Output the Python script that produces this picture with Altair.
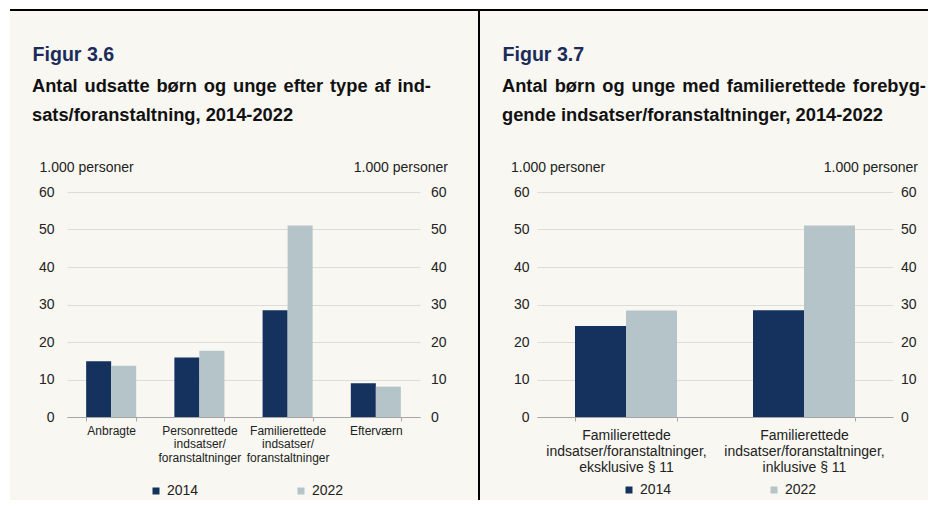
import altair as alt
import pandas as pd

# ---------------- data ----------------
years = ["2014", "2022"]
y_ticks = [0, 10, 20, 30, 40, 50, 60]
unit_label = "1.000 personer"

cats_36 = ["Anbragte",
           "Personrettede\nindsatser/\nforanstaltninger",
           "Familierettede\nindsatser/\nforanstaltninger",
           "Efterværn"]
vals_36_2014 = [14.9, 15.9, 28.5, 9.0]
vals_36_2022 = [13.7, 17.7, 51.1, 8.1]

cats_37 = ["Familierettede\nindsatser/foranstaltninger,\neksklusive § 11",
           "Familierettede\nindsatser/foranstaltninger,\ninklusive § 11"]
vals_37_2014 = [24.3, 28.5]
vals_37_2022 = [28.4, 51.1]

fig_36 = "Figur 3.6"
sub_36 = ["Antal udsatte børn og unge efter type af ind-",
          "sats/foranstaltning, 2014-2022"]
fig_37 = "Figur 3.7"
sub_37 = ["Antal børn og unge med familierettede forebyg-",
          "gende indsatser/foranstaltninger, 2014-2022"]

# ---------------- style ----------------
FONT = "Liberation Sans"
NAVY = "#15325f"
LIGHT = "#b5c4c9"
BG = "#f8f7f1"
GRID = "#dcdcdc"
AXIS = "#a6a6a6"
TXT = "#222222"
H = 225
BOTTOM = 308
SUB_SIZE = 18.3

# Arial/Liberation Sans Bold advance widths (1/1000 em) for justifying line 1
BOLD_W = {"A": 722, "a": 556, "b": 611, "d": 611, "e": 556, "f": 333,
          "g": 611, "i": 278, "l": 278, "m": 889, "n": 611, "o": 611,
          "p": 611, "r": 389, "s": 556, "t": 333, "u": 611, "y": 556,
          "ø": 611, "-": 333}


def text_width(s, size):
    return sum(BOLD_W.get(c, 556) for c in s) / 1000.0 * size


def rect(x, x2, y, y2, color):
    return alt.Chart(pd.DataFrame({"k": [0]})).mark_rect(color=color).encode(
        x=alt.value(x), x2=alt.value(x2), y=alt.value(y), y2=alt.value(y2)
    )


def justified_line(line, x0, x1, y, size):
    words = line.split(" ")
    widths = [text_width(w, size) for w in words]
    gap = (x1 - x0 - sum(widths)) / (len(words) - 1)
    out = []
    pos = x0
    one = pd.DataFrame({"k": [0]})
    for w, wd in zip(words, widths):
        out.append(alt.Chart(one).mark_text(
            align="left", baseline="alphabetic", font=FONT, fontSize=size,
            fontWeight="bold", color="#111111"
        ).encode(x=alt.value(round(pos, 2)), y=alt.value(y), text=alt.value(w)))
        pos += wd + gap
    return out


def panel(cats, v14, v22, fig, sub, W, pin, pout, xl_size, xl_lh, xl_pad,
          ypadL, ypadR, tXL, tXR, legX, legY, colpad, sub_end, deco):
    df = pd.DataFrame({
        "cat": cats * 2,
        "year": [years[0]] * len(cats) + [years[1]] * len(cats),
        "value": v14 + v22,
    })
    one = pd.DataFrame({"k": [0]})

    fig_txt = alt.Chart(one).mark_text(
        align="left", baseline="alphabetic", font=FONT, fontSize=19.6,
        fontWeight="bold", color="#1b2b5b"
    ).encode(x=alt.value(-34.5), y=alt.value(-131), text=alt.value(fig))

    line1 = justified_line(sub[0], -35, sub_end, -100.5, SUB_SIZE)
    line2 = alt.Chart(one).mark_text(
        align="left", baseline="alphabetic", font=FONT, fontSize=SUB_SIZE,
        fontWeight="bold", color="#111111"
    ).encode(x=alt.value(-35), y=alt.value(-71.5), text=alt.value(sub[1]))

    bars = alt.Chart(df).mark_bar().encode(
        x=alt.X("cat:N", sort=cats,
                scale=alt.Scale(paddingInner=pin, paddingOuter=pout),
                axis=alt.Axis(title=None, labelAngle=0,
                              labelExpr="split(datum.label, '\\n')",
                              labelFont=FONT, labelFontSize=xl_size,
                              labelLineHeight=xl_lh, labelPadding=xl_pad,
                              labelColor=TXT, labelLimit=400,
                              labelBaseline="top",
                              tickBand="extent", tickSize=4, tickColor=AXIS,
                              domainColor=AXIS, grid=False)),
        xOffset=alt.XOffset("year:N", sort=years,
                            scale=alt.Scale(paddingInner=0, paddingOuter=0)),
        y=alt.Y("value:Q", scale=alt.Scale(domain=[0, 60]),
                axis=alt.Axis(title=unit_label, titleAngle=0, titleX=tXL,
                              titleY=-20.5, titleAlign="left",
                              titleBaseline="alphabetic", titleFont=FONT,
                              titleFontSize=14, titleFontWeight="normal",
                              titleColor=TXT, values=y_ticks, ticks=False,
                              domain=False, grid=True, gridColor=GRID,
                              labelFont=FONT, labelFontSize=14,
                              labelColor=TXT, labelPadding=ypadL)),
        color=alt.Color("year:N", sort=years,
                        scale=alt.Scale(domain=years, range=[NAVY, LIGHT]),
                        legend=alt.Legend(orient="none", legendX=legX,
                                          legendY=legY, direction="horizontal",
                                          title=None, symbolType="square",
                                          symbolSize=49, symbolStrokeWidth=0,
                                          labelFont=FONT, labelFontSize=14,
                                          labelColor=TXT, columnPadding=colpad,
                                          labelOffset=4, padding=0, columns=2)),
    )

    raxis = alt.Chart(df).mark_rule(opacity=0).encode(
        y=alt.Y("value:Q", scale=alt.Scale(domain=[0, 60]),
                axis=alt.Axis(orient="right", title=unit_label, titleAngle=0,
                              titleX=tXR, titleY=-20.5, titleAlign="right",
                              titleBaseline="alphabetic", titleFont=FONT,
                              titleFontSize=14, titleFontWeight="normal",
                              titleColor=TXT, values=y_ticks, ticks=False,
                              domain=False, grid=False, labelFont=FONT,
                              labelFontSize=14, labelColor=TXT,
                              labelPadding=ypadR))
    )

    return alt.layer(*deco, fig_txt, *line1, line2, bars, raxis).resolve_axis(
        y="independent"
    ).properties(width=W, height=H)


deco_left = [
    rect(-59, -57, -184, BOTTOM, "white"),
    rect(-59, 413, -184, -183, "white"),
    rect(-57, 413, -183, -181, "black"),
    rect(411, 413, -183, BOTTOM, "black"),
]
deco_right = [
    rect(-57, 391, -184, -183, "white"),
    rect(-57, 391, -183, -181, "black"),
]

left = panel(cats_36, vals_36_2014, vals_36_2022, fig_36, sub_36, 353,
             0.433, 0.217, 12, 13.5, 4, 13, 10.5, -28, 27.5, 82, 292, 95,
             364, deco_left)
right = panel(cats_37, vals_37_2014, vals_37_2022, fig_37, sub_37, 356,
              0.427, 0.2135, 14, 16, 7, 8, 7.5, -26.5, 24.5, 85, 291, 95,
              389, deco_right)

chart = alt.hconcat(left, right, spacing=0).resolve_scale(
    x="independent", y="independent", color="independent",
    xOffset="independent"
).resolve_legend(color="independent").properties(
    padding=0, background=BG
).configure(font=FONT).configure_view(stroke="transparent", strokeWidth=0)

chart.save("out.html", embed_options={"renderer": "svg", "actions": False})
